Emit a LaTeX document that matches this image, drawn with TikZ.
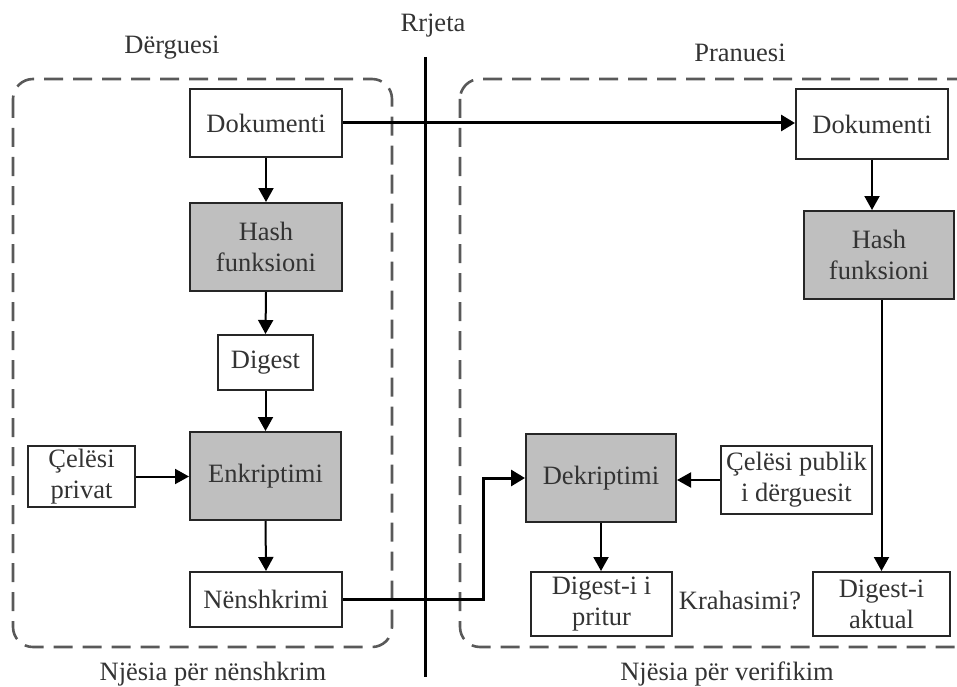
\documentclass[tikz,border=0pt]{standalone}
\usepackage{fontspec}
\setmainfont{Liberation Serif}
\usetikzlibrary{arrows.meta,calc}
\begin{document}
\begin{tikzpicture}[x=1pt,y=-1pt,
  font=\fontsize{26.5}{31}\selectfont, text=black!80,
  wbox/.style={draw=black!85, line width=2pt, fill=white, align=center, inner sep=0pt},
  gbox/.style={wbox, fill=black!25},
  arr/.style={draw=black, line width=2pt, -{Triangle[length=14pt,width=15pt]}},
  thick arr/.style={draw=black, line width=3pt, -{Triangle[length=14pt,width=16pt]}},
  dbox/.style={draw=black!65, line width=2.6pt, dash pattern=on 19pt off 10pt, rounded corners=20pt},
  lbl/.style={inner sep=0pt}]
\useasboundingbox (0,0) rectangle (957,687);
\begin{scope}
\clip (0,0) rectangle (957,687);
% groups
\draw[dbox] (13,79) rectangle (392,647);
\draw[dbox] (460,79) rectangle (980,647);
% network line
\coordinate (nt) at (425,57);
\coordinate (nb) at (425,677);
\draw[line width=3pt] (nt) -- (nb);
\end{scope}
% labels
\node[lbl] (rrjeta) at (433,26) {Rrjeta};
\node[lbl] (derguesi) at (172,48) {Dërguesi};
\node[lbl] (pranuesi) at (740,53) {Pranuesi};
\node[lbl] (njn) at (213,674) {Njësia për nënshkrim};
\node[lbl] (njv) at (727,674) {Njësia për verifikim};
% sender
\node[wbox, minimum width=152pt, minimum height=68pt] (d1) at (266,123) {Dokumenti};
\node[gbox, minimum width=152pt, minimum height=88pt] (h1) at (266,247) {Hash\\funksioni};
\node[wbox, minimum width=95pt, minimum height=55pt] (dg1) at (265.5,362.5) {Digest};
\node[gbox, minimum width=151pt, minimum height=88pt] (e1) at (265.5,476) {Enkriptimi};
\node[wbox, minimum width=107pt, minimum height=61pt] (k1) at (81.5,476.5) {Çelësi\\privat};
\node[wbox, minimum width=152pt, minimum height=55pt] (n1) at (266,599.5) {Nënshkrimi};
% receiver
\node[wbox, minimum width=152pt, minimum height=70pt] (d2) at (872,124) {Dokumenti};
\node[gbox, minimum width=150pt, minimum height=88pt] (h2) at (879,255) {Hash\\funksioni};
\node[gbox, minimum width=150pt, minimum height=88pt] (dk) at (601,478) {Dekriptimi};
\node[wbox, minimum width=151pt, minimum height=68pt] (kp) at (796.5,480) {Çelësi publik\\i dërguesit};
\node[wbox, minimum width=141pt, minimum height=64pt] (dp) at (601.5,604) {Digest-i i\\pritur};
\node[wbox, minimum width=137pt, minimum height=64pt] (da) at (881.5,604) {Digest-i\\aktual};
\node[lbl] (kr) at (740,600) {Krahasimi?};
% connectors
\draw[arr] (d1.south) -- (h1.north);
\draw[arr] (h1.south) -- (dg1.north);
\draw[arr] (dg1.south) -- (e1.north);
\draw[arr] (k1.east) -- (k1.east -| e1.west);
\draw[arr] (e1.south) -- (n1.north);
\draw[thick arr] (d1.east) -- (d1.east -| d2.west);
\coordinate (bend) at (483,0);
\draw[thick arr] (n1.east) -- (n1.east -| bend) |- (dk.west);
\draw[arr] (d2.south) -- (d2.south |- h2.north);
\draw[arr] (h2.south -| da.north) -- (da.north);
\draw[arr] (kp.west) -- (kp.west -| dk.east);
\draw[arr] (dk.south) -- (dk.south |- dp.north);
\end{tikzpicture}
\end{document}
